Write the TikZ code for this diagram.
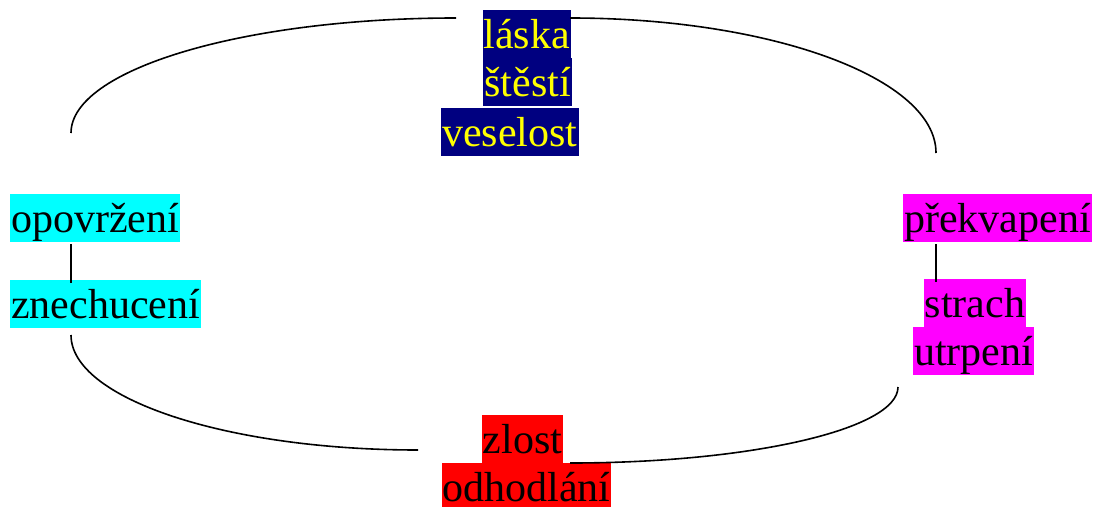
\documentclass[tikz,border=0pt]{standalone}
\usepackage{fontspec}
\setmainfont{Liberation Serif}
\definecolor{navyc}{RGB}{0,0,128}
\definecolor{yellowc}{RGB}{255,255,0}
\definecolor{cyanc}{RGB}{0,255,255}
\definecolor{magentac}{RGB}{255,0,255}
\definecolor{redc}{RGB}{255,0,0}
\tikzset{
  word/.style={inner xsep=1pt, inner ysep=0pt, text height=38pt, text depth=10pt,
    font=\fontsize{42}{48}\selectfont},
  joy/.style={word, fill=navyc, text=yellowc},
  disgust/.style={word, fill=cyanc, text=black},
  fear/.style={word, fill=magentac, text=black},
  anger/.style={word, fill=redc, text=black},
  link/.style={draw=black, line width=1.6pt},
}
\begin{document}
\begin{tikzpicture}[x=1pt, y=-1pt]
\useasboundingbox (0,0) rectangle (1094,508);
% top group
\node[joy, anchor=north east] (laska) at (571,10) {láska};
\node[joy, anchor=north east] (stesti) at (572,58) {štěstí};
\node[joy, anchor=north west] (veselost) at (441,108) {veselost};
% left group
\node[disgust, anchor=north west] (opovrzeni) at (10,194) {opovržení};
\node[disgust, anchor=north west] (znechuceni) at (10,280) {znechucení};
% right group
\node[fear, anchor=north east] (prekvapeni) at (1092,194) {překvapení};
\node[fear, anchor=north] (strach) at (975,279) {strach};
\node[fear, anchor=north] (utrpeni) at (973.5,327) {utrpení};
% bottom group
\node[anger, anchor=north] (zlost) at (522.5,415) {zlost};
\node[anger, anchor=north, text depth=6pt] (odhodlani) at (526.5,463) {odhodlání};
% short links
\coordinate (lx) at (71,0);
\coordinate (rx) at (936,0);
\draw[link] ([yshift=-2pt]opovrzeni.south -| lx) -- ([yshift=-3pt]znechuceni.north -| lx);
\draw[link] ([yshift=-2pt]prekvapeni.south -| rx) -- ([yshift=-3pt]strach.north -| rx);
% arc end points
\coordinate (tlA) at (71,133);
\coordinate (tlB) at (456,18);
\coordinate (trA) at (570,18);
\coordinate (trB) at (936,153);
\coordinate (blA) at (71,335);
\coordinate (blB) at (418,450);
\coordinate (brA) at (570,463);
\coordinate (brB) at (898,387);
% arcs
\draw[link] (tlA) .. controls (71,69.5) and (243.4,18) .. (tlB);
\draw[link] (trA) .. controls (772.1,18) and (936,78.4) .. (trB);
\draw[link] (blA) .. controls (71,398.5) and (226.4,450) .. (blB);
\draw[link] (brA) .. controls (751.2,463) and (898,429) .. (brB);
\end{tikzpicture}
\end{document}
